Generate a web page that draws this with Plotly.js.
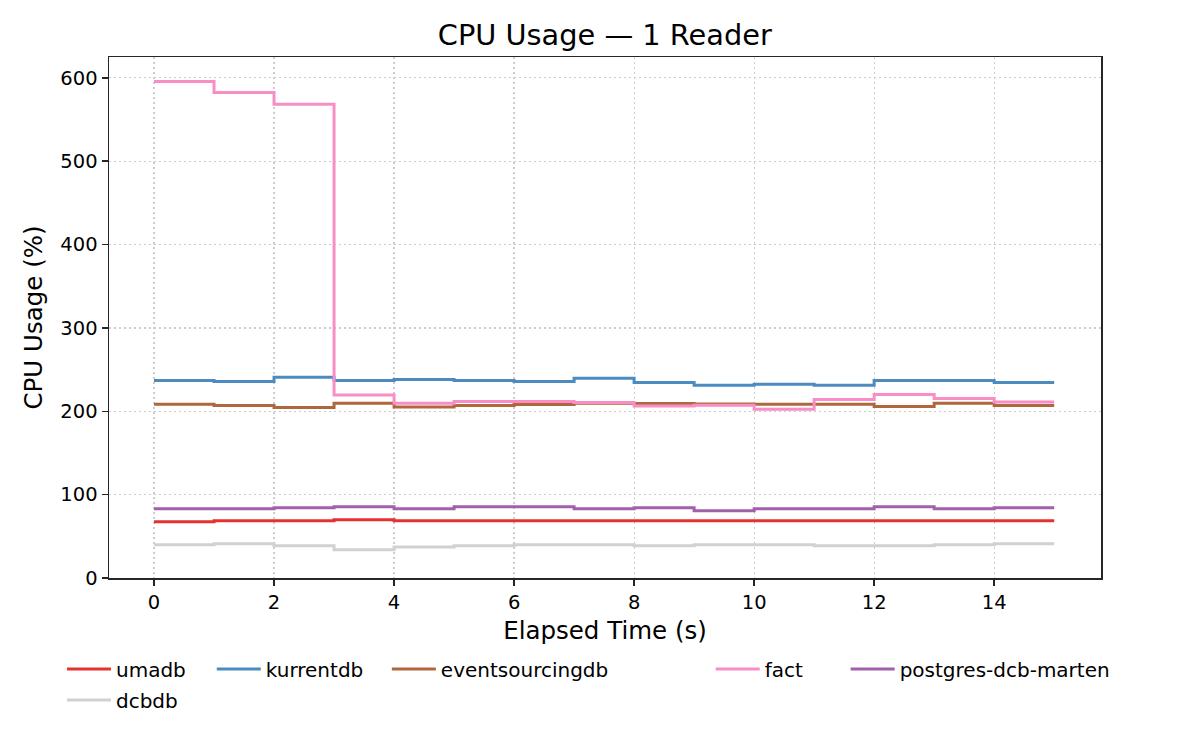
<!DOCTYPE html>
<html>
<head>
<meta charset="utf-8">
<script src="https://cdn.plot.ly/plotly-3.0.1.min.js"></script>
<style>
  html, body { margin: 0; padding: 0; background: #fff; }
  #chart { width: 1200px; height: 750px; }
</style>
</head>
<body>
<div id="chart"></div>
<script>
// elapsed seconds (step "post": each value holds until the next second)
const t = [0, 1, 2, 3, 4, 5, 6, 7, 8, 9, 10, 11, 12, 13, 14, 15];

const umadb = [67.6, 68.8, 68.8, 70.0, 68.8, 68.8, 68.8, 68.8, 68.8, 68.8, 68.8, 68.8, 68.8, 68.8, 68.8, 68.8];
const kurrentdb = [236.8, 235.6, 240.8, 236.8, 238.0, 236.8, 235.6, 239.6, 234.4, 231.2, 232.4, 231.2, 236.8, 236.8, 234.4, 234.4];
const eventsourcingdb = [208.4, 206.8, 204.4, 209.6, 205.2, 206.8, 208.0, 209.6, 209.2, 208.8, 208.4, 208.4, 205.6, 209.6, 206.8, 206.8];
const fact = [595.6, 582.4, 568.4, 219.6, 209.6, 211.6, 211.6, 210.4, 206.4, 207.2, 202.4, 214.0, 220.0, 215.2, 211.2, 211.2];
const marten = [83.2, 83.2, 84.4, 85.6, 83.2, 85.6, 85.6, 83.2, 84.4, 80.8, 83.2, 83.2, 85.6, 83.2, 84.4, 84.4];
const dcbdb = [40.0, 41.2, 38.8, 34.0, 37.2, 38.8, 40.0, 40.0, 38.8, 40.0, 40.0, 38.8, 38.8, 40.0, 41.2, 41.2];

const names = ["umadb", "kurrentdb", "eventsourcingdb", "fact", "postgres-dcb-marten", "dcbdb"];
const series = [umadb, kurrentdb, eventsourcingdb, fact, marten, dcbdb];
const colors = ["#e73131", "#4b8bbf", "#af673d", "#f88ec5", "#a260ac", "#d1d1d1"];

// one legend per entry so the columns sit like the matplotlib ones
const legX = [-0.0474, 0.1036, 0.2801, 0.6066, 0.7426, -0.0474];
const legY = [-0.1747, -0.1747, -0.1747, -0.1747, -0.1747, -0.234];

const FONT = "DejaVu Sans, sans-serif";

const traces = series.map((y, i) => ({
    x: t, y, name: names[i], type: "scatter", mode: "lines",
    line: { shape: "hv", color: colors[i], width: 3 },
    legend: i === 0 ? "legend" : "legend" + (i + 1)
}));

const ax = {
    showline: true, mirror: true, linecolor: "#262626", linewidth: 1.5,
    ticks: "outside", ticklen: 6, tickwidth: 1.5, tickcolor: "#262626",
    showgrid: true, gridcolor: "#cccccc", griddash: "2px,3px", gridwidth: 1.2,
    zeroline: false, tickfont: { family: FONT, size: 19.5, color: "#000" }
};

const layout = {
    width: 1200, height: 750,
    paper_bgcolor: "#fff", plot_bgcolor: "#fff",
    margin: { l: 109, r: 99, t: 57, b: 172 },
    title: { text: "CPU Usage — 1 Reader", x: 0.504, xanchor: "center", y: 0.953, yanchor: "middle",
             font: { family: FONT, size: 28.8, color: "#000" } },
    xaxis: { ...ax, range: [-0.75, 15.78], tickvals: [0, 2, 4, 6, 8, 10, 12, 14],
             title: { text: "Elapsed Time (s)", font: { family: FONT, size: 24.5, color: "#000" }, standoff: 9 } },
    yaxis: { ...ax, range: [0, 625], tickvals: [0, 100, 200, 300, 400, 500, 600],
             title: { text: "CPU Usage (%)", font: { family: FONT, size: 24.5, color: "#000" }, standoff: 11 } },
    showlegend: true
};

names.forEach((_, i) => {
    layout[i === 0 ? "legend" : "legend" + (i + 1)] = {
        orientation: "h", xanchor: "left", yanchor: "middle", x: legX[i], y: legY[i],
        font: { family: FONT, size: 20, color: "#000" },
        bgcolor: "rgba(0,0,0,0)", itemwidth: 44
    };
});

Plotly.newPlot("chart", traces, layout, { displayModeBar: false, staticPlot: true });
</script>
</body>
</html>
